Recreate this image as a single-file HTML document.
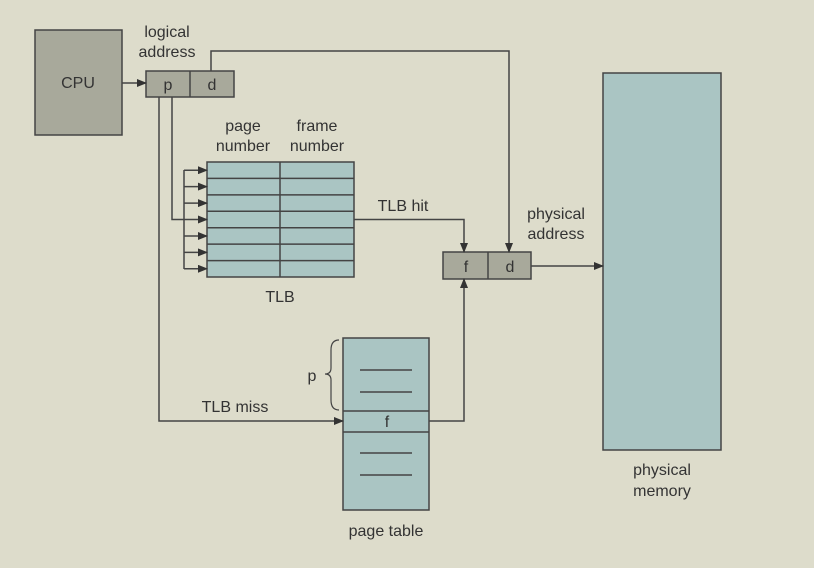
<!DOCTYPE html>
<html><head><style>
body{margin:0;background:#dddccb;}
svg{display:block}
text{font-family:"Liberation Sans",sans-serif;font-size:16px;fill:#333;}
</style></head><body>
<svg width="814" height="568" viewBox="0 0 814 568">
<defs><marker id="a" markerWidth="10" markerHeight="8" refX="9" refY="4" orient="auto" markerUnits="userSpaceOnUse"><path d="M0,0 L10,4 L0,8 Z" fill="#333"/></marker></defs>
<rect width="814" height="568" fill="#dddccb"/>
<g stroke="#444" stroke-width="1.5">
<rect x="35" y="30" width="87" height="105" fill="#a8a99b"/>
<rect x="146" y="71" width="88" height="26" fill="#a8a99b"/>
<line x1="190" y1="71" x2="190" y2="97"/>
<rect x="443" y="252" width="88" height="27" fill="#a8a99b"/>
<line x1="488" y1="252" x2="488" y2="279"/>
<rect x="603" y="73" width="118" height="377" fill="#aac5c3"/>
<rect x="207" y="162" width="147" height="115" fill="#aac5c3"/>
<line x1="280" y1="162" x2="280" y2="277"/>
<line x1="207" y1="178.4" x2="354" y2="178.4"/>
<line x1="207" y1="194.9" x2="354" y2="194.9"/>
<line x1="207" y1="211.3" x2="354" y2="211.3"/>
<line x1="207" y1="227.7" x2="354" y2="227.7"/>
<line x1="207" y1="244.1" x2="354" y2="244.1"/>
<line x1="207" y1="260.6" x2="354" y2="260.6"/>
<rect x="343" y="338" width="86" height="172" fill="#aac5c3"/>
<line x1="343" y1="411" x2="429" y2="411"/>
<line x1="343" y1="432" x2="429" y2="432"/>
<line x1="360" y1="370" x2="412" y2="370"/>
<line x1="360" y1="392" x2="412" y2="392"/>
<line x1="360" y1="453" x2="412" y2="453"/>
<line x1="360" y1="475" x2="412" y2="475"/>
<g fill="none">
<line x1="122" y1="83" x2="146" y2="83" marker-end="url(#a)"/>
<polyline points="211,71 211,51 509,51 509,252" marker-end="url(#a)"/>
<polyline points="159,97 159,421 343,421" marker-end="url(#a)"/>
<polyline points="172,97 172,219.5 207,219.5" marker-end="url(#a)"/>
<line x1="184" y1="170" x2="184" y2="269"/>
<line x1="184" y1="170.2" x2="207" y2="170.2" marker-end="url(#a)"/>
<line x1="184" y1="186.6" x2="207" y2="186.6" marker-end="url(#a)"/>
<line x1="184" y1="203.1" x2="207" y2="203.1" marker-end="url(#a)"/>
<line x1="184" y1="236" x2="207" y2="236" marker-end="url(#a)"/>
<line x1="184" y1="252.4" x2="207" y2="252.4" marker-end="url(#a)"/>
<line x1="184" y1="268.8" x2="207" y2="268.8" marker-end="url(#a)"/>
<polyline points="354,219.5 464,219.5 464,252" marker-end="url(#a)"/>
<polyline points="429,421 464,421 464,279" marker-end="url(#a)"/>
<line x1="531" y1="266" x2="603" y2="266" marker-end="url(#a)"/>
<path d="M339,340 Q331,340 331,350 L331,368 Q331,374 325,374 Q331,374 331,380 L331,400 Q331,410 339,410" stroke-width="1.2"/>
</g>
</g>
<text x="78" y="88" text-anchor="middle">CPU</text>
<text x="168" y="90" text-anchor="middle">p</text>
<text x="212" y="90" text-anchor="middle">d</text>
<text x="167" y="37" text-anchor="middle">logical</text>
<text x="167" y="57" text-anchor="middle">address</text>
<text x="243" y="131" text-anchor="middle">page</text>
<text x="243" y="151" text-anchor="middle">number</text>
<text x="317" y="131" text-anchor="middle">frame</text>
<text x="317" y="151" text-anchor="middle">number</text>
<text x="280" y="302" text-anchor="middle">TLB</text>
<text x="403" y="211" text-anchor="middle">TLB hit</text>
<text x="556" y="219" text-anchor="middle">physical</text>
<text x="556" y="239" text-anchor="middle">address</text>
<text x="466" y="272" text-anchor="middle">f</text>
<text x="510" y="272" text-anchor="middle">d</text>
<text x="235" y="412" text-anchor="middle">TLB miss</text>
<text x="312" y="381" text-anchor="middle">p</text>
<text x="387" y="427" text-anchor="middle">f</text>
<text x="386" y="536" text-anchor="middle">page table</text>
<text x="662" y="475" text-anchor="middle">physical</text>
<text x="662" y="496" text-anchor="middle">memory</text>
</svg>
</body></html>
